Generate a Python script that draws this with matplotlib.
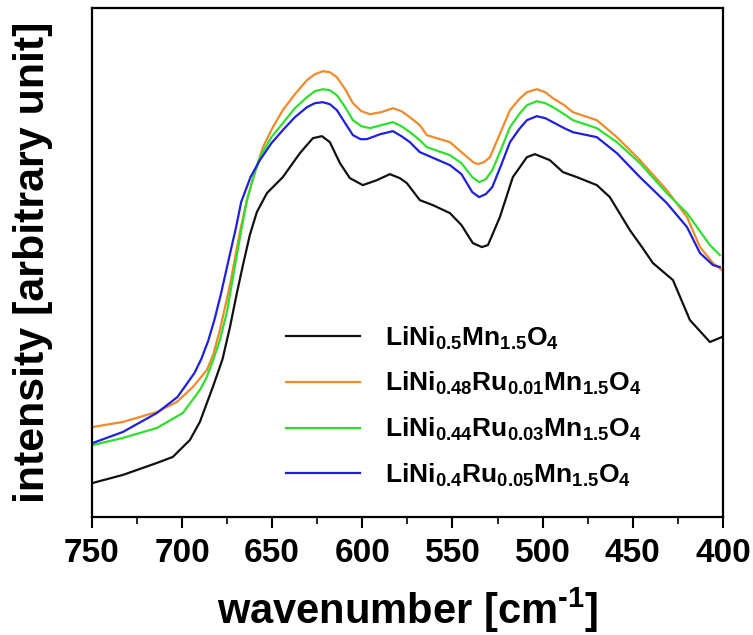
import numpy as np
import matplotlib
matplotlib.use("Agg")
import matplotlib.pyplot as plt

plt.rcParams['font.family'] = ['Liberation Sans', 'DejaVu Sans']
plt.rcParams['font.weight'] = 'bold'
plt.rcParams['mathtext.fontset'] = 'custom'
plt.rcParams['mathtext.rm'] = 'Liberation Sans:bold'
plt.rcParams['mathtext.bf'] = 'Liberation Sans:bold'
plt.rcParams['mathtext.it'] = 'Liberation Sans:bold'

# Raman spectra, wavenumber (cm-1) and intensity (arbitrary unit)
wn_pristine = [749.4, 732.8, 713.9, 705.1, 695.6, 690.1, 682.9, 677.5, 673.4, 669.8, 666.2,
               662.4, 658.5, 652.9, 644.1, 634.6, 627.4, 622.4, 618.0, 612.4, 606.9, 599.7,
               591.9, 584.7, 579.2, 575.3, 568.1, 560.9, 551.4, 545.0, 538.7, 533.7, 530.3,
               523.7, 516.5, 508.7, 504.3, 496.0, 488.7, 481.0, 469.9, 462.7, 451.6, 444.5,
               438.8, 427.7, 418.3, 407.2, 400.5]
int_pristine = [34, 42, 54, 60, 77, 95, 130, 158, 190, 222, 252,
                282, 305, 324, 340, 364, 379, 381, 375, 354, 339, 332,
                337, 343, 339, 334, 317, 312, 304, 292, 274, 270, 272,
                300, 340, 360, 363, 357, 345, 340, 332, 320, 287, 269,
                254, 237, 197, 175, 180]

wn_ru01 = [749.4, 732.8, 713.9, 702.9, 694.0, 686.2, 682.6, 679.0, 673.4, 667.9, 664.0,
           659.5, 655.1, 649.6, 644.1, 637.4, 630.7, 626.3, 621.9, 618.0, 614.1, 609.5,
           605.2, 600.5, 595.8, 589.5, 583.0, 578.3, 573.6, 568.1, 564.2, 551.4, 545.0,
           538.5, 535.9, 532.5, 529.2, 524.0, 518.1, 513.0, 508.7, 503.2, 498.5, 494.3,
           488.0, 483.2, 469.9, 458.8, 446.0, 431.1, 419.9, 412.7, 405.5, 400.5]
int_ru01 = [90, 95, 105, 115, 130, 147, 163, 187, 232, 285, 317,
            345, 370, 390, 407, 423, 437, 443, 446, 445, 440, 428,
            414, 406, 403, 405, 409, 406, 400, 392, 382, 375, 365,
            355, 353, 355, 360, 382, 407, 418, 425, 428, 425, 419,
            412, 405, 397, 380, 357, 327, 300, 270, 254, 247]

wn_ru03 = [749.4, 732.8, 713.9, 699.5, 690.1, 686.5, 682.9, 679.0, 675.1, 669.6, 666.8,
           664.0, 660.4, 656.8, 650.4, 644.1, 637.4, 630.7, 626.3, 621.9, 618.0, 614.1,
           609.5, 605.2, 600.5, 595.8, 589.5, 583.0, 578.3, 573.6, 568.1, 564.2, 551.4,
           545.0, 539.0, 535.2, 531.5, 527.9, 523.0, 518.1, 513.0, 508.7, 503.2, 498.5,
           494.3, 488.0, 483.2, 469.9, 458.8, 446.0, 431.1, 419.9, 407.2, 401.7]
int_ru03 = [72, 79, 89, 104, 127, 139, 156, 177, 205, 262, 290,
            317, 340, 360, 380, 394, 409, 420, 426, 428, 427, 422,
            410, 397, 391, 389, 392, 395, 391, 385, 377, 370, 362,
            354, 340, 335, 338, 347, 368, 390, 403, 412, 416, 414,
            410, 403, 397, 389, 375, 354, 324, 304, 272, 262]

wn_ru05 = [749.4, 732.8, 713.9, 702.5, 693.1, 689.3, 685.5, 681.9, 678.3, 672.8, 670.0,
           667.2, 662.0, 656.8, 650.4, 644.1, 637.4, 630.7, 626.3, 621.9, 618.0, 614.1,
           609.5, 605.2, 601.0, 597.5, 590.0, 583.0, 578.3, 573.6, 568.1, 564.2, 551.4,
           545.0, 539.0, 535.2, 531.5, 527.9, 523.0, 518.1, 513.0, 508.7, 503.2, 498.5,
           494.3, 488.0, 483.2, 469.9, 458.8, 446.0, 431.1, 419.9, 412.7, 405.5, 401.7]
int_ru05 = [74, 85, 104, 120, 144, 158, 176, 198, 224, 268, 290,
            315, 340, 357, 374, 387, 400, 410, 414, 415, 413, 407,
            394, 382, 378, 378, 383, 386, 381, 375, 365, 362, 352,
            343, 325, 320, 323, 330, 352, 375, 388, 397, 401, 399,
            395, 389, 385, 380, 364, 340, 314, 290, 264, 252, 250]

labels = [r'$\mathbf{LiNi_{0.5}Mn_{1.5}O_{4}}$',
          r'$\mathbf{LiNi_{0.48}Ru_{0.01}Mn_{1.5}O_{4}}$',
          r'$\mathbf{LiNi_{0.44}Ru_{0.03}Mn_{1.5}O_{4}}$',
          r'$\mathbf{LiNi_{0.4}Ru_{0.05}Mn_{1.5}O_{4}}$']
colors = ['#111111', '#F28A2A', '#2EE02E', '#1F1FE0']

fig = plt.figure(figsize=(7.53, 6.35), dpi=100)
ax = fig.add_axes([0.122, 0.186, 0.838, 0.801])

series = [(wn_pristine, int_pristine), (wn_ru01, int_ru01),
          (wn_ru03, int_ru03), (wn_ru05, int_ru05)]
for (wn, inten), c, lab in zip(series, colors, labels):
    ax.plot(wn, inten, color=c, lw=1.6, label=lab, solid_joinstyle='round')

ax.set_xlim(750, 400)
ax.set_ylim(0, 509)
ax.set_xticks(np.arange(750, 399, -50))
ax.set_xticks(np.arange(725, 400, -50), minor=True)
ax.set_yticks([])
ax.tick_params(axis='x', which='major', direction='out', length=8, width=1.5,
               labelsize=24, pad=7)
ax.tick_params(axis='x', which='minor', direction='out', length=5, width=1.2)
for lab in ax.get_xticklabels():
    lab.set_fontweight('bold')
for sp in ax.spines.values():
    sp.set_linewidth(1.6)

ax.set_xlabel(r'wavenumber [cm$^{\mathbf{\text{-}1}}$]', fontsize=30, fontweight='bold', labelpad=12)
ax.set_ylabel('intensity [arbitrary unit]', fontsize=31, fontweight='bold', labelpad=28)

ax.legend(loc='upper left', bbox_to_anchor=(0.27, 0.425), frameon=False, fontsize=19,
          handlelength=2.8, handletextpad=0.95, labelspacing=0.7)

fig.savefig('out.png', dpi=100)
